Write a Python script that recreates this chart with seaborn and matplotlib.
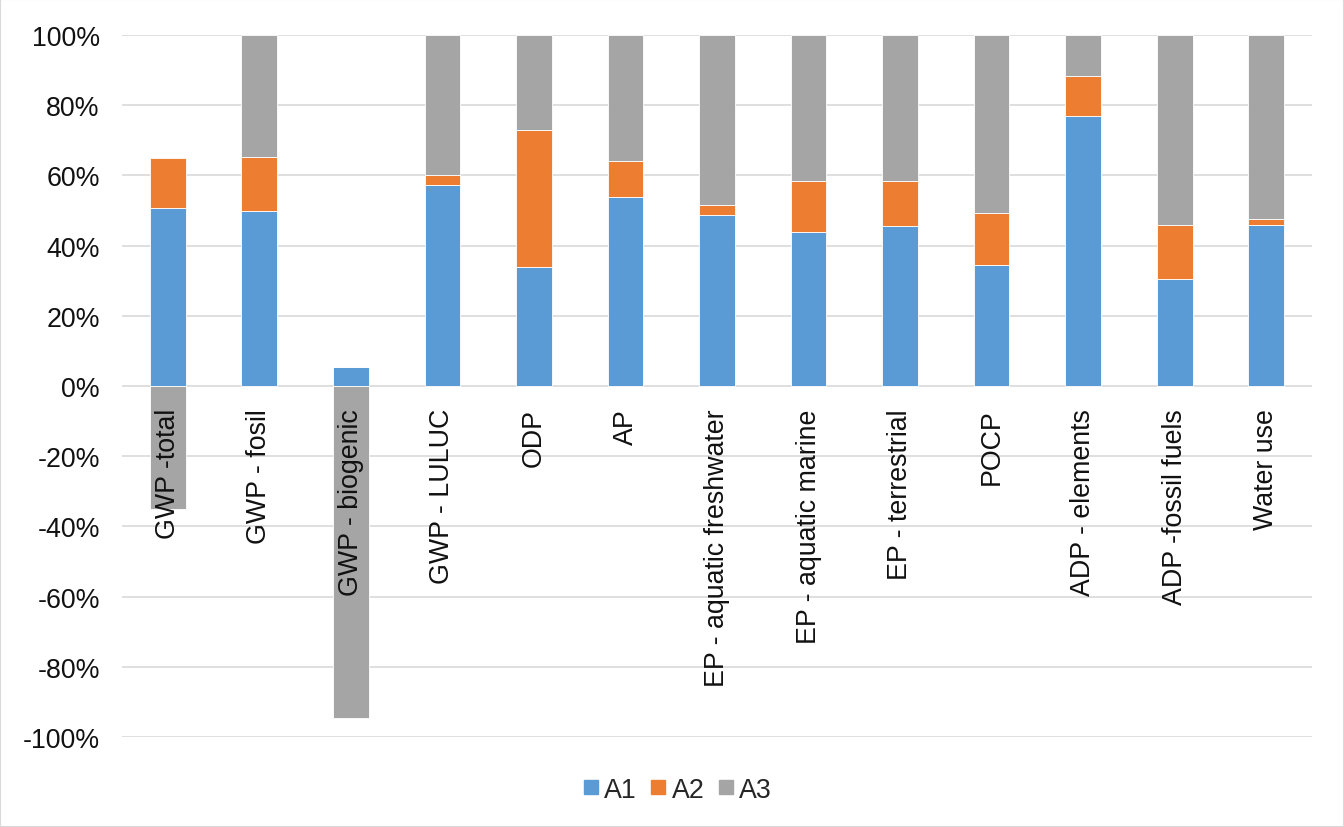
import numpy as np
import pandas as pd
import matplotlib
matplotlib.use("Agg")
import matplotlib.pyplot as plt
from matplotlib.ticker import FuncFormatter, MultipleLocator
from matplotlib.lines import Line2D
from matplotlib.patches import Rectangle
import seaborn as sns

# Impact categories and module shares (%)
categories = [
    "GWP -total", "GWP - fosil", "GWP - biogenic", "GWP - LULUC", "ODP", "AP",
    "EP - aquatic freshwater", "EP - aquatic marine", "EP - terrestrial", "POCP",
    "ADP - elements", "ADP -fossil fuels", "Water use",
]
a1 = [50.6, 49.9, 5.4, 57.4, 33.8, 53.9, 48.8, 43.9, 45.6, 34.6, 76.8, 30.6, 45.9]
a2 = [14.5, 15.3, 0.0, 2.8, 39.1, 10.2, 2.9, 14.6, 12.8, 14.8, 11.5, 15.3, 1.8]
a3 = [-34.9, 34.8, -94.6, 39.8, 27.1, 35.9, 48.3, 41.5, 41.6, 50.6, 11.7, 54.1, 52.3]

series_names = ["A1", "A2", "A3"]
series_values = [a1, a2, a3]
colors = ["#5B9BD5", "#ED7D31", "#A5A5A5"]

sns.set_theme(style="white")
plt.rcParams["font.family"] = ["Liberation Sans", "DejaVu Sans"]

FS = 19.3

fig = plt.figure(figsize=(13.44, 8.28), dpi=100)
ax = fig.add_axes([0.0908, 0.1087, 0.9762 - 0.0908, 0.9565 - 0.1087])

# Stack positives upward and negatives downward, each from zero
pos_base = np.zeros(len(categories))
neg_base = np.zeros(len(categories))
for name, vals, col in zip(series_names, series_values, colors):
    vals = np.asarray(vals, dtype=float)
    bottom = np.where(vals >= 0, pos_base, neg_base)
    df = pd.DataFrame({"category": categories, "value": vals})
    sns.barplot(data=df, x="category", y="value", order=categories,
                color=col, saturation=1, width=0.39, bottom=bottom,
                edgecolor="white", linewidth=0.6, ax=ax, zorder=2)
    pos_base = pos_base + np.where(vals >= 0, vals, 0)
    neg_base = neg_base + np.where(vals < 0, vals, 0)

ax.set_xlim(-0.5, len(categories) - 0.5)
ax.set_ylim(-100, 100)
ax.set_xlabel("")
ax.set_ylabel("")

ax.yaxis.set_major_locator(MultipleLocator(20))
ax.yaxis.set_major_formatter(FuncFormatter(lambda v, p: f"{v:.0f}%"))
ax.grid(axis="y", color="#d9d9d9", linewidth=1.2)
ax.grid(axis="x", visible=False)
for s in ax.spines.values():
    s.set_visible(False)
ax.spines["bottom"].set_position(("data", 0))

ax.tick_params(axis="y", length=0, pad=16, labelsize=FS, labelcolor="#111111")
ax.tick_params(axis="x", length=0, pad=16, labelsize=FS, labelcolor="#111111")
ax.set_xticks(range(len(categories)))
ax.set_xticklabels(categories, rotation=90, va="top", ha="center")

# grid stays behind the bars, category labels sit on top of them
ax.yaxis.set_zorder(0.5)
ax.xaxis.set_zorder(3)

handles = [Line2D([0], [0], marker="s", linestyle="none", markersize=10.5,
                  markerfacecolor=c, markeredgecolor=c) for c in colors]
fig.legend(handles, series_names, loc="center", bbox_to_anchor=(0.504, 0.045),
           ncol=3, frameon=False, fontsize=FS, handlelength=0.6,
           handletextpad=0.2, columnspacing=0.5)

fig.add_artist(Rectangle((0, 0), 1, 1, transform=fig.transFigure, fill=False,
                         edgecolor="#d9d9d9", linewidth=1.5))

fig.savefig("out.png", dpi=100)
